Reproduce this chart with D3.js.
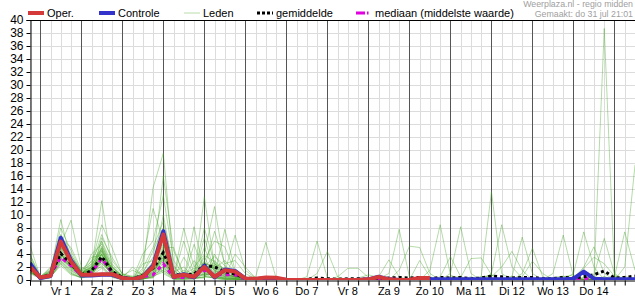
<!DOCTYPE html>
<html>
<head>
<meta charset="utf-8">
<script src="https://cdn.jsdelivr.net/npm/d3@7"></script>
<style>
  body { margin: 0; background: #fff; }
  svg { font-family: "Liberation Sans", Arial, sans-serif; display: block; }
</style>
</head>
<body>
<div id="chart"></div>
<script>
// ECMWF run 31 jul 12 UTC, 6-hourly sums (mm), first step = 31 jul 18h
const runStart = Date.UTC(2025, 6, 31, 12);
const stepHours = 6;

const dayLabels = ['Vr 1', 'Za 2', 'Zo 3', 'Ma 4', 'Di 5', 'Wo 6', 'Do 7', 'Vr 8',
  'Za 9', 'Zo 10', 'Ma 11', 'Di 12', 'Wo 13', 'Do 14'];
const yTicks = [0, 2, 4, 6, 8, 10, 12, 14, 16, 18, 20, 22, 24, 26, 28, 30, 32, 34, 36, 38, 40];

// groups: first step, then 4 steps per day (00 06 12 18), last day 3 steps
const oper = [2.0, 0.4,0.65,5.9,2.8, 0.8,0.8,0.9,0.9, 0.3,0.1,0.5,2.0, 7.0,0.5,0.8,0.5, 2.0,0.5,1.5,1.3,
  0.25,0.2,0.4,0.35, 0.05,0,0,0, 0,0,0,0, 0.1,0.45,0.1,0, 0.05,0.3,0.3];

const controle = [2.6, 0.3,0.6,6.5,3.0, 0.7,0.7,0.8,0.8, 0.3,0.1,0.5,2.2, 7.5,0.5,0.9,0.4, 2.2,0.4,1.6,1.4,
  0.2,0.1,0.3,0.2, 0,0,0,0, 0,0,0,0, 0.1,0.5,0.1,0, 0,0.1,0.1,0.1, 0.1,0.1,0.1,0.1, 0.1,0.1,0.1,0.1,
  0.1,0.1,0.1,0.1, 0.2,1.3,0.2,0.1, 0.1,0.1,0.1];

const gemiddelde = [1.8, 0.4,0.8,4.1,2.5, 0.8,1.4,3.6,1.3, 0.4,0.2,0.7,1.8, 4.2,0.8,0.8,0.9, 2.3,2.0,1.3,0.9,
  0.3,0.2,0.3,0.1, 0.05,0.05,0.1,0.3, 0.2,0.1,0.2,0.2, 0.1,0.1,0.3,0.4, 0.3,0.4,0.2,0.4, 0.3,0.4,0.2,0.3,
  0.6,0.5,0.3,0.4, 0.4,0.2,0.2,0.4, 0.3,0.5,0.8,1.4, 0.3,0.4,0.6];

const mediaan = [1.8, 0.3,0.8,3.5,2.2, 0.7,1.2,3.3,1.1, 0.3,0.1,0.5,0.8, 2.5,0.4,0.4,0.5, 1.5,0.8,0.8,0.8,
  0.1,0,0,0, 0,0,0,0, 0,0,0,0, 0,0,0,0, 0,0,0,0, 0,0,0,0, 0,0,0,0, 0,0,0,0, 0,0.25,0.1,0, 0,0,0];

const leden = [
  [5.3, 0.5,1.2,9.3,3.0, 1.0,2.0,12.2,2.0, 0.5,0.2,1.5,14.2, 19.5,2.0,0.5,0.8, 2.5,1.5,0.8,0.5, 0.2,0.5,5.8,0.3, 0,0,0,0, 0,0,0,0, 0,0,0,0, 0,0,0,0, 0,0,0,0.4, 0.8,0,0,0, 0,0.3,0,0, 0,1.5,0.6,0, 0,0,0],
  [2.5, 0.3,0.6,4.5,2.0, 0.6,1.0,3.5,1.0, 0.3,0,0.3,2.0, 3.0,0.5,8.0,2.0, 4.0,11.3,2.0,1.0, 0.3,0,0.2,0.5, 0,0,0.5,6.0, 0.3,0,0,0, 0,0,0.2,0, 0,0,0,0, 0.3,0.5,0,0, 0,0.2,0,0, 0,0,0.4,0.6, 0.2,0,0,0.5, 0,0.3,0],
  [1.8, 0.2,0.8,3.0,1.5, 0.5,4.0,5.5,1.5, 0.6,0.5,0.2,0.5, 1.5,0.3,0.2,8.2, 1.0,0.6,0.3,0.2, 0.1,0,0,0, 0,0,0,1.0, 4.4,0.5,0,0, 0,0,0,0, 0,0.3,0,0, 0,0,0.5,0, 0,0,0,0.3, 0,0,0,0, 0,0.4,0,0, 0.5,0,0],
  [1.2, 0.4,2.0,5.5,9.2, 2.0,1.2,2.8,0.8, 0.2,0.1,2.5,3.0, 16.0,4.5,1.0,0.5, 12.8,2.0,1.0,0.6, 0.2,0,0,0, 0,0,0,0, 0,0.5,1.8,1.8, 0.4,0,0,0, 0,0,0,0, 0,0,0,0.2, 0,0,0.6,0, 0,0,0,0, 0,0,0,0, 0,0,0.4],
  [2.0, 0.1,0.5,3.8,2.5, 0.8,2.5,8.5,5.0, 0.8,0.3,0.5,1.0, 2.5,0.2,0.4,0.3, 3.0,6.0,5.1,1.2, 0.5,0.2,0,0, 0,0,0,0, 0,0,0,0, 0,0.2,1.0,7.8, 0.5,0,0,0, 0,0,0,0, 0,0,0,0, 0.3,0,0,0, 0,0,0.5,0, 0,0,0],
  [3.0, 0.6,1.5,7.0,4.0, 1.2,1.5,4.0,1.2, 0.4,0,1.0,4.5, 8.0,1.0,0.3,1.2, 1.5,0.8,7.8,1.5, 0.4,0.3,0,0, 0,0,0,0, 0,0,0,0, 0,0,0,1.5, 5.2,5.0,1.0,0, 0,0,0,0, 0,0,0,0, 0,0,0,0.5, 0.8,0,0,0, 0,0,0],
  [1.5, 0.3,0.4,2.5,1.0, 0.4,0.8,3.0,0.6, 0.1,0.1,0.1,0.8, 1.8,0.4,6.0,1.0, 8.0,2.5,1.2,6.9, 1.5,0.3,0,0, 0,0,0,0, 0,0,0,0, 0,0,0,0, 0,0,1.5,8.5, 0.8,0,0,0, 0,0,0.2,0, 0,0,0,0, 0,0,0,0, 0.3,0,0],
  [1.0, 0.2,0.9,4.0,2.2, 0.7,3.0,6.0,2.5, 0.7,1.5,0.8,1.5, 4.0,0.8,0.5,0.2, 2.0,1.0,0.5,0.3, 0.1,0,0,0, 0,0,0,0, 0,0,0,0, 0,0,0,0, 0,0,0,0, 1.0,8.2,1.0,0, 0,0,0,0, 0,0,0.3,0, 0,0,0,0.5, 0,0,0],
  [2.2, 0.4,1.1,6.0,3.5, 1.5,1.0,2.5,0.9, 0.3,0,0.2,0.3, 2.2,0.1,0.2,5.5, 1.2,0.5,0.3,0.2, 0,0,0,0, 0,0,0,0, 0,0,0,0, 0,0,0,0, 0,0,0,0, 0,0,0,0.5, 13.6,1.0,0,0, 0,0,0,0, 0,0.3,0,0, 0,0,0],
  [1.7, 0.3,0.7,3.2,1.8, 0.5,1.8,4.5,1.4, 0.5,0.2,4.0,6.0, 13.0,3.0,0.8,0.4, 0.8,3.0,1.5,0.8, 0.3,0,0,0, 0,0,0,0, 0,0,0,0, 0,0,0,0, 0,0,0,0, 0,0,0,0, 1.0,8.5,2.0,0.3, 0,0,0,0, 0,0,0,0, 0,0.6,0],
  [4.0, 0.5,1.8,4.8,2.8, 0.9,2.2,7.0,3.0, 1.0,0.4,0.4,1.2, 3.5,0.6,1.5,0.6, 5.0,1.2,0.6,0.4, 0.1,0,0,0, 0,0,0,0, 0,0,0,0, 0,0,0,0, 0,0,0,0, 0,0,0,0, 0,0,0.5,6.6, 1.0,0,0,0, 0,0,0,0, 0,0,0],
  [1.3, 0.1,0.3,2.8,1.2, 0.3,0.6,3.2,0.7, 0.2,0,0.6,2.5, 10.0,1.5,0.3,0.2, 0.5,0.4,0.2,0.1, 0,0,0,0, 0,0,0,0, 0,0,0,0, 0,0,0,0, 0,0,0,0, 0,0,0,0.5, 0.5,2.0,4.4,1.5, 0,0,0,0, 0,0,0,0, 0,0,0],
  [2.6, 0.3,0.9,5.0,3.2, 1.1,1.4,5.0,1.6, 0.4,0.1,0.1,0.6, 1.2,0.2,0.1,0.3, 1.8,7.5,2.5,3.0, 1.0,0.2,0,0, 0,0,0,0, 0,0,0,0, 0,0.5,3.1,0.5, 0,0,0,0, 0.5,0.4,3.3,3.4, 0.8,0,0,0, 0,0,0,0, 0,0,0,0, 0,0,0],
  [1.9, 0.2,0.6,3.5,2.0, 0.6,0.9,2.2,0.5, 0.1,0,3.0,11.0, 6.0,0.9,0.4,1.5, 0.6,0.3,0.1,0.1, 0,0,0,0, 0,0,0,0, 0,0,0,0, 0,0,0,0, 0,0,0,0, 0,0,0,0, 0,0,0,0, 0,0,1.0,6.9, 0.5,0,0,0, 0,0,0],
  [1.1, 0.4,1.4,8.0,4.5, 1.3,3.5,3.8,1.1, 0.3,2.0,0.7,1.8, 2.8,0.3,3.5,0.8, 2.2,1.8,3.0,1.2, 0.4,0.1,0,0, 0,0,0,0, 0,0,0,0, 0,0,0,0, 0,0,0,0, 0,0,0,0, 0,0,0,0, 0,0,0,0, 1.0,7.4,2.0,0, 0,0,0],
  [2.3, 0.3,0.8,4.2,1.6, 0.8,1.1,4.2,1.8, 0.6,0.1,0.2,0.4, 5.0,5.0,0.6,0.4, 0.3,4.0,1.0,0.5, 0.2,0,0,0, 0,0,0,0, 0,0,0,0, 0,0,0,0, 0,0,0,0, 0,0,0,0, 0,0,0,0, 0,0,0,0.3, 0,0.2,0.5,38.7, 0.8,0,0],
  [3.4, 0.6,0.5,2.2,0.8, 0.4,0.7,1.8,0.4, 0,0,1.2,3.5, 1.0,0.1,0.2,0.1, 1.0,0.2,0.1,0, 0,0,0,0, 0,0,0,0, 0,0,0,0, 0,0,0,0, 0,0,0,0, 0,0,0,0, 0,0,0,0, 0,0,0,0, 0,2.0,5.1,1.0, 0,0,0],
  [1.6, 0.2,1.0,3.6,2.4, 0.7,2.0,5.2,2.2, 0.5,0.3,0.3,0.7, 3.2,0.5,0.3,3.0, 0.7,1.0,0.5,4.0, 2.0,0.3,0,0, 0,0,0,0, 0,0,0,0, 0,0,0,0, 0,0,0,0, 0,0,0,0, 0,0,0,0, 0,0,0,0, 0.3,0,0.8,6.4, 1.0,0,0],
  [2.0, 0.3,1.3,5.2,3.0, 1.0,1.3,3.0,1.0, 0.2,0,0.5,2.2, 7.0,1.2,2.0,0.5, 3.5,0.6,0.3,0.2, 0.1,0,0,0, 0,0,0,0, 0,0,0,0, 0,0,0,0, 0,0,0,0, 0,0,0,0, 0,0,0,0, 0,0,0,0, 0,0,0,0, 0.5,7.4,1.5],
  [1.4, 0.1,0.4,3.0,1.4, 0.5,0.5,6.5,3.5, 0.9,0.6,0.1,1.0, 2.0,0.2,0.1,0.2, 0.4,2.2,0.8,0.5, 0.2,0,0,0, 0,0,0,0, 0,0,0,0, 0,0,0,0, 0,0,0,0, 0,0,0,0, 0,0,0,0, 0,0,0,0, 0,0,0,0, 0,2.0,17.7],
  [2.8, 0.4,0.7,4.4,2.6, 0.9,1.6,2.0,0.6, 0.1,0,0.2,0.5, 4.5,0.4,0.7,0.4, 1.5,0.5,0.2,0.1, 0,0,0,0, 0,0,0,0, 0,0,0,0, 0,0,0,0, 0,0,0,0.5, 3.6,0.5,0,0, 0,0,0,0.5, 2.9,1.0,0,0, 0,0,0,0, 0,0,0],
  [1.2, 0.3,1.6,6.5,5.0, 1.6,2.8,4.8,1.3, 0.4,0.2,1.8,5.0, 9.0,2.2,0.4,0.6, 6.5,1.4,0.6,0.3, 0.1,0,0,0, 0,0,0,0, 0,0,0,0, 0,0,0,0, 0,3.0,0.5,0, 0,0,0,0, 0,0,0,1.0, 4.9,0.5,0,0, 0,0,0,0, 0,0,0],
  [1.8, 0.2,0.5,2.6,1.0, 0.3,1.0,3.3,0.8, 0.3,0.1,0.3,0.9, 1.5,0.3,0.2,0.3, 0.5,0.3,0.1,0, 0,0,0,0, 0,0,0,0, 0,0,0,0.3, 0.8,0.4,0,0, 0,0,0,0, 0,0,0,0, 0,0,0,0, 0,0,0,0, 0.4,1.8,3.5,2.5, 0.6,0,0],
  [2.1, 0.5,0.9,4.0,2.0, 0.8,1.2,2.6,1.0, 0.2,0,0.4,1.6, 2.6,0.6,1.0,0.5, 0.9,0.8,0.4,0.2, 0.1,0,0,0, 0,0,0,0, 0,0,0,0, 0,0,0,0, 0,0,0,0, 0,0,0,0, 0,0,0,0, 0,0,0,0, 0,0,0,0, 0,0,0],
  [2.4, 0.4,1.0,5.8,3.8, 1.4,2.4,4.6,1.2, 0.4,0.2,0.9,2.8, 5.5,1.0,0.6,0.9, 2.8,1.6,0.9,0.4, 0.2,0,0,0, 0,0,0,0, 0,0,0,0, 0,0,0,0, 0,0,0,0, 0,0,0,0, 0,0,0,0, 0,0,0,0, 0,0,0,0, 0,0,0],
  [1.6, 0.3,0.7,4.6,2.9, 1.0,1.9,5.8,2.0, 0.5,0.3,0.6,1.9, 4.8,0.7,0.5,0.6, 3.8,2.8,1.4,0.9, 0.3,0.1,0,0, 0,0,0,0, 0,0,0,0, 0,0,0,0, 0,0,0,0, 0,0,0,0, 0,0,0,0, 0,0,0,0, 0,0,0,0, 0,0,0],
  [3.8, 0.4,1.1,3.4,1.9, 0.6,1.7,4.4,1.6, 0.4,0.1,0.4,1.4, 3.6,0.4,0.9,1.8, 2.0,3.6,2.2,1.0, 0.3,0,0,0, 0,0,0,0, 0,0,0,0, 0,0,0,0, 0,0,0,0, 0,0,0,0, 0,0,0,0, 0,0,0,0, 0,0,0,0, 0,0,0],
  [1.5, 0.2,0.6,5.0,3.6, 1.2,2.0,3.9,1.3, 0.3,0.3,1.0,2.6, 6.5,1.2,0.4,0.3, 1.2,2.4,1.8,0.7, 0.2,0,0,0, 0,0,0,0, 0,0,0,0, 0,0,0,0, 0,0,0,0, 0,0,0,0, 0,0,0,0, 0,0,0,0, 0,0,0,0, 0,0,0],
  [2.2, 0.3,0.9,4.2,2.2, 0.7,1.4,4.9,1.5, 0.5,0.1,0.5,1.1, 4.0,0.6,1.0,0.5, 2.6,1.9,0.7,0.6, 0.1,0,0,0, 0,0,0,0, 0,0,0,0, 0,0,0,0, 0,0,0,0, 0,0,0,0, 0,0,0,0, 0,0,0,0, 0,0,0,0, 0,0,0],
  [2.9, 0.5,1.3,3.9,2.4, 0.9,1.5,3.6,2.0, 0.6,0.4,0.8,2.4, 5.2,0.9,0.7,1.1, 1.9,2.2,1.1,0.8, 0.2,0,0,0, 0,0,0,0, 0,0,0,0, 0,0,0,0, 0,0,0,0, 0,0,0,0, 0,0,0,0, 0,0,0,0, 0,0,0,0, 0,0,0],
  [1.9, 0.3,0.8,4.9,2.7, 0.8,1.3,4.0,1.2, 0.3,0.2,0.7,1.7, 4.4,0.7,0.9,0.7, 2.4,1.2,1.6,1.1, 0.4,0.1,0,0, 0,0,0,0, 0,0,0,0, 0,0,0,0, 0,0,0,0, 0,0,0,0, 0,0,0,0, 0,0,0,0, 0,0,0,0, 0,0,0],
  [1.4, 0.2,0.6,3.3,2.1, 0.7,1.8,3.1,0.9, 0.2,0.1,0.3,1.3, 3.4,0.5,0.6,0.8, 1.7,2.6,0.9,0.5, 0.2,0,0,0, 0,0,0,0, 0,0,0,0, 0,0,0,0, 0,0,0,0, 0,0,0,0, 0,0,0,0, 0,0,0,0, 0,0,0,0, 0,0,0]
];

const width = 635, height = 300;
const plot = {left: 30, right: 635, top: 20, bottom: 280};
const stepTime = i => new Date(runStart + (i + 1) * stepHours * 3600e3);

const x = d3.scaleUtc()
  .domain([stepTime(0), stepTime(controle.length - 1)])
  .range([plot.left, plot.right]);
const y = d3.scaleLinear().domain([0, 40]).range([plot.bottom, plot.top]);

const svg = d3.select('#chart').append('svg')
  .attr('width', width)
  .attr('height', height);

svg.append('clipPath').attr('id', 'clip')
  .append('rect')
  .attr('x', plot.left).attr('y', plot.top - 1)
  .attr('width', plot.right - plot.left).attr('height', plot.bottom - plot.top + 1);

// grid
const hours = d3.utcHour.every(6).range(x.domain()[0], new Date(+x.domain()[1] + 1));
svg.append('g').selectAll('line')
  .data(yTicks.filter(v => v > 0 && v < 40))
  .enter().append('line')
  .attr('x1', plot.left).attr('x2', plot.right)
  .attr('y1', d => y(d) + 0.5).attr('y2', d => y(d) + 0.5)
  .attr('stroke', '#dcdcdc');

svg.append('g').selectAll('line')
  .data(hours.filter(d => d.getUTCHours() !== 0))
  .enter().append('line')
  .attr('x1', d => Math.round(x(d)) + 0.5).attr('x2', d => Math.round(x(d)) + 0.5)
  .attr('y1', plot.top).attr('y2', plot.bottom)
  .attr('stroke', '#dcdcdc');

svg.append('g').selectAll('line')
  .data(hours.filter(d => d.getUTCHours() === 0))
  .enter().append('line')
  .attr('x1', d => Math.round(x(d)) + 0.5).attr('x2', d => Math.round(x(d)) + 0.5)
  .attr('y1', plot.top).attr('y2', plot.bottom)
  .attr('stroke', '#555');

// series
const line = d3.line()
  .x((d, i) => x(stepTime(i)))
  .y(d => y(d));

const series = svg.append('g').attr('clip-path', 'url(#clip)');

series.selectAll('.lid')
  .data(leden)
  .enter().append('path')
  .attr('class', 'lid')
  .attr('d', line)
  .attr('fill', 'none')
  .attr('stroke', 'rgb(60,160,30)')
  .attr('stroke-opacity', 0.38)
  .attr('stroke-width', 1);

series.append('path')
  .attr('d', line(mediaan))
  .attr('fill', 'none')
  .attr('stroke', '#e000e0')
  .attr('stroke-width', 3)
  .attr('stroke-dasharray', '4,4');

series.append('path')
  .attr('d', line(gemiddelde))
  .attr('fill', 'none')
  .attr('stroke', '#000')
  .attr('stroke-width', 3)
  .attr('stroke-dasharray', '3,3');

series.append('path')
  .attr('d', line(controle))
  .attr('fill', 'none')
  .attr('stroke', '#3333cc')
  .attr('stroke-width', 4)
  .attr('stroke-linejoin', 'round');

series.append('path')
  .attr('d', line(oper))
  .attr('fill', 'none')
  .attr('stroke', '#d43a3a')
  .attr('stroke-width', 4)
  .attr('stroke-linejoin', 'round');

// frame
svg.append('line')
  .attr('x1', plot.left).attr('x2', plot.right)
  .attr('y1', plot.top + 0.5).attr('y2', plot.top + 0.5)
  .attr('stroke', '#000');

// y axis
const yAxis = svg.append('g')
  .attr('transform', `translate(${plot.left + 0.5},0)`)
  .call(d3.axisLeft(y).tickValues(yTicks).tickSize(4).tickPadding(3).tickFormat(d3.format('d')));
yAxis.selectAll('text').attr('font-size', 12).attr('fill', '#000').attr('font-family', null);
yAxis.select('.domain').attr('stroke', '#000');

// x axis: 6h ticks, day names at noon
const xAxis = svg.append('g')
  .attr('transform', `translate(0,${plot.bottom + 0.5})`)
  .call(d3.axisBottom(x).tickValues(hours).tickSize(5).tickFormat(''));
xAxis.select('.domain').attr('stroke', '#000');
xAxis.selectAll('.tick line').attr('stroke', '#000');

svg.append('g').selectAll('text')
  .data(dayLabels)
  .enter().append('text')
  .attr('x', (d, i) => x(new Date(Date.UTC(2025, 7, i + 1, 12))))
  .attr('y', 295)
  .attr('text-anchor', 'middle')
  .attr('font-size', 11)
  .text(d => d);

// legend
const legend = svg.append('g').attr('font-size', 11);
const items = [
  {label: 'Oper.', x: 28, color: '#d43a3a', w: 4},
  {label: 'Controle', x: 99, color: '#3333cc', w: 4},
  {label: 'Leden', x: 184, color: '#b9dcaa', w: 1},
  {label: 'gemiddelde', x: 257, color: '#000', w: 3, dash: '3,2'},
  {label: 'mediaan (middelste waarde)', x: 356, color: '#e000e0', w: 3, dash: '9,2,1.5,10', len: 13}
];
items.forEach(it => {
  legend.append('line')
    .attr('x1', it.x).attr('x2', it.x + (it.len || 16))
    .attr('y1', 13).attr('y2', 13)
    .attr('stroke', it.color)
    .attr('stroke-width', it.w)
    .attr('stroke-dasharray', it.dash || null);
  legend.append('text')
    .attr('x', it.x + 19)
    .attr('y', 17)
    .text(it.label);
});

svg.append('text')
  .attr('x', 633).attr('y', 7)
  .attr('text-anchor', 'end')
  .attr('font-size', 8.8)
  .attr('fill', '#a0a0a0')
  .text('Weerplaza.nl - regio midden');
svg.append('text')
  .attr('x', 633).attr('y', 17)
  .attr('text-anchor', 'end')
  .attr('font-size', 8.8)
  .attr('fill', '#a0a0a0')
  .text('Gemaakt: do 31 jul 21:01');
</script>
</body>
</html>
